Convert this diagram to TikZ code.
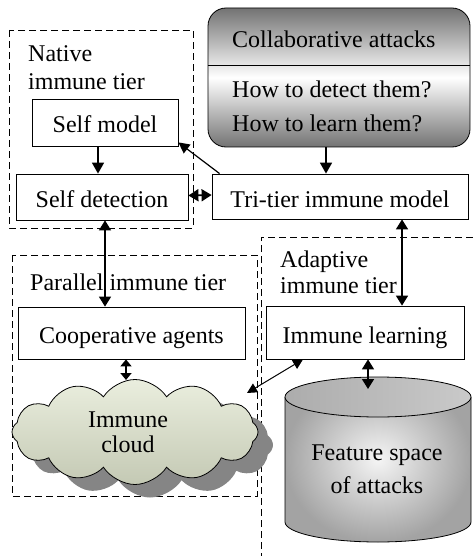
\documentclass[tikz,border=0pt]{standalone}
\usepackage{fontspec}
\setmainfont{Liberation Serif}
\usetikzlibrary{arrows.meta,shapes.symbols,calc}
\begin{document}
\begin{tikzpicture}[x=1pt,y=-1pt,
  every node/.style={font=\fontsize{24}{28}\selectfont, inner sep=0pt},
  box/.style={draw, line width=0.8pt, fill=white, text height=21pt, text depth=0pt},
  tier/.style={draw, dash pattern=on 7pt off 4pt, line width=0.8pt},
  lbl/.style={anchor=base west},
  clbl/.style={anchor=base},
  dbl/.style={{Triangle[length=10pt,width=12pt]}-{Triangle[length=10pt,width=12pt]}, line width=1.6pt},
  short dbl/.style={{Triangle[length=7pt,width=11pt]}-{Triangle[length=7pt,width=11pt]}, line width=1.6pt},
  sgl/.style={-{Triangle[length=11pt,width=12pt]}, line width=1.6pt},
  thin dbl/.style={{Triangle[length=10pt,width=10pt]}-{Triangle[length=10pt,width=10pt]}, line width=1pt},
  cloudshape/.style={cloud, cloud puffs=12, cloud puff arc=115, aspect=2.3, minimum width=246pt, minimum height=105pt},
]
\useasboundingbox (0,0) rectangle (472,556);

% tiers
\draw[tier] (9,30) rectangle (193,228);
\draw[tier] (12,255) rectangle (257,496);
\draw[tier] (261,560) -- (261,237) -- (480,237);

\node[lbl] (natA) at (28,62) {Native};
\node[lbl] (natB) at (28,90) {immune tier};
\node[lbl] (par) at (30,290) {Parallel immune tier};
\node[lbl] (adA) at (280,267) {Adaptive};
\node[lbl] (adB) at (280,293) {immune tier};

% collaborative attacks
\node[draw, line width=0.8pt, rounded corners=18pt, minimum width=262pt, minimum height=139pt,
      top color=black!55, bottom color=black!55, middle color=white] (collab) at (339,77.5) {};
\coordinate (sepy) at (0,65);
\draw[line width=0.8pt] (collab.west |- sepy) -- (collab.east |- sepy);
\node[lbl] (cA) at (232,48) {Collaborative attacks};
\node[lbl] (cB) at (232,98) {How to detect them?};
\node[lbl] (cC) at (232,132) {How to learn them?};

% boxes
\node[box, minimum width=146pt, minimum height=47pt] (selfmodel) at (105,122.5) {Self model};
\node[box, minimum width=172pt, minimum height=46pt] (selfdet) at (102,197) {Self detection};
\node[box, minimum width=256pt, minimum height=45pt] (tri) at (340,196.5) {Tri-tier immune model};
\node[box, minimum width=227pt, minimum height=52pt] (coop) at (131.5,333) {Cooperative agents};
\node[box, minimum width=198pt, minimum height=53pt] (learn) at (365,332.5) {Immune learning};

% cloud
\node[cloudshape, fill=black!48] (cloudshadow) at (150,445) {};
\node[cloudshape, draw, line width=0.8pt, shading angle=30, top color={rgb,255:red,234;green,238;blue,222},
      bottom color={rgb,255:red,196;green,201;blue,180}] (cloud) at (135,432) {};
\node[clbl] (clA) at (128,427) {Immune};
\node[clbl] (clB) at (128,452) {cloud};
\coordinate (cloudtop) at (126,380);
\coordinate (cloudright) at (247,393);

% cylinder
\path[inner color=gray!8, outer color=gray!72]
  (285,397) -- (285,522) arc[start angle=180, end angle=360, x radius=93pt, y radius=20pt]
  -- (471,397) arc[start angle=0, end angle=180, x radius=93pt, y radius=20pt] -- cycle;
\draw[line width=0.8pt]
  (285,397) -- (285,522) arc[start angle=180, end angle=360, x radius=93pt, y radius=20pt]
  -- (471,397);
\draw[line width=0.8pt, left color=gray!65, right color=gray!42]
  (378,397) ellipse [x radius=93pt, y radius=20pt];
\node[clbl] (fA) at (377,460) {Feature space};
\node[clbl] (fB) at (377,493) {of attacks};
\coordinate (cyltop) at (368,389);

% connectors
\draw[sgl] ([xshift=-13pt]collab.south) -- ([xshift=-14pt]tri.north);
\draw[-{Triangle[length=11pt,width=11pt]}, line width=1.2pt] ([xshift=8pt]tri.north west) -- ([yshift=4pt]selfmodel.south east);
\draw[sgl] ([xshift=-7pt]selfmodel.south) -- ([xshift=-4pt]selfdet.north);
\draw[dbl] ([yshift=1.5pt]selfdet.east) -- ([yshift=1.5pt]tri.west);
\draw[dbl] ([xshift=3pt]selfdet.south) -- ([xshift=-26.5pt]coop.north);
\draw[dbl] ([xshift=62pt]tri.south) -- ([xshift=37pt]learn.north);
\draw[short dbl] ([xshift=-5.5pt]coop.south) -- (cloudtop);
\draw[thin dbl] ([xshift=-62pt]learn.south) -- (cloudright);
\draw[dbl] ([xshift=3pt]learn.south) -- (cyltop);
\end{tikzpicture}
\end{document}
